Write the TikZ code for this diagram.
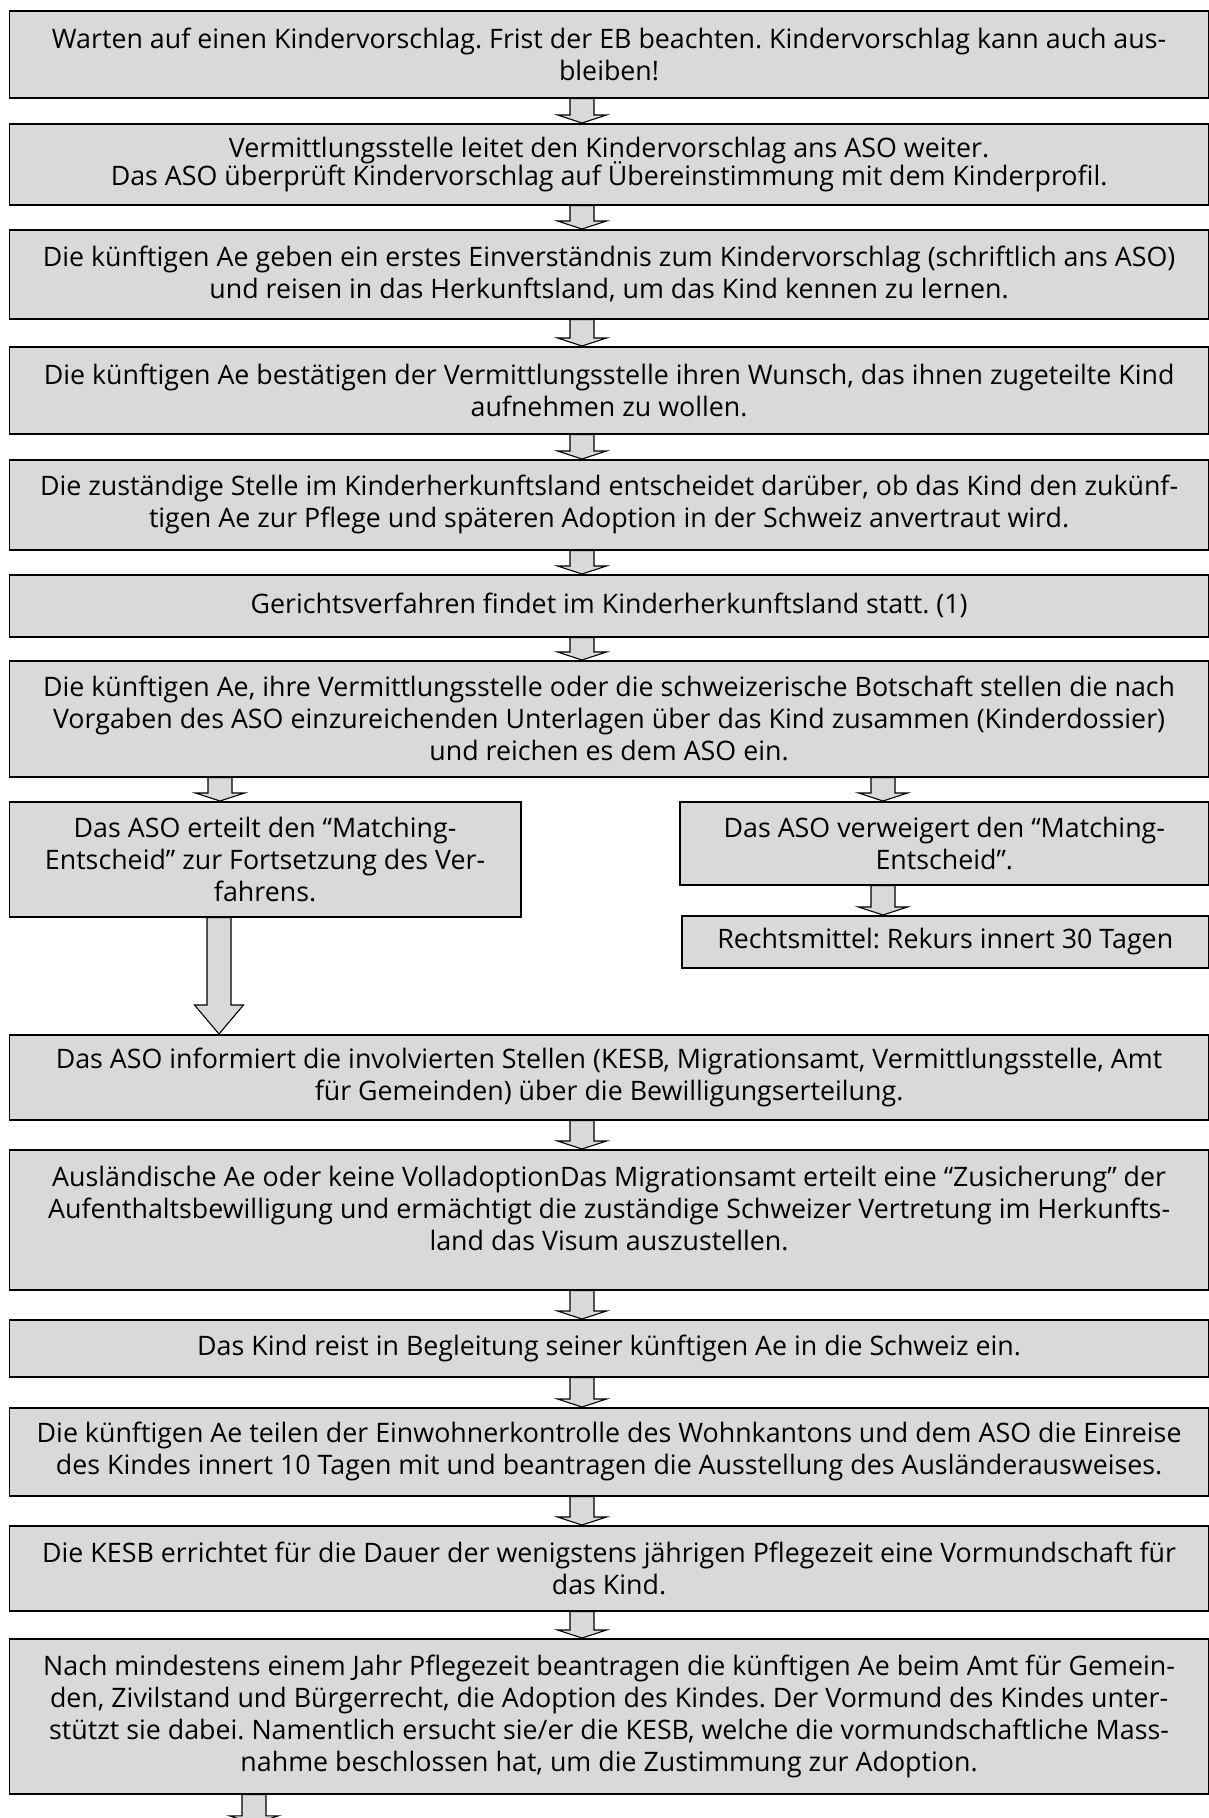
\documentclass[tikz,border=0pt]{standalone}
\usepackage{fontspec}
\setmainfont{Open Sans}
\usetikzlibrary{calc}
\definecolor{boxgray}{HTML}{D9D9D9}
\newcommand{\blockarr}[5]{% from, to, x centre (px), head length (px), style
  \draw[#5] let \p1=(#1.south), \p2=(#2.north) in
    ({(#3-12)*1pt},\y1) -- ({(#3-12)*1pt},{\y2+#4*1pt}) -- ({(#3-24.5)*1pt},{\y2+#4*1pt})
    -- ({#3*1pt},\y2) -- ({(#3+24.5)*1pt},{\y2+#4*1pt}) -- ({(#3+12)*1pt},{\y2+#4*1pt})
    -- ({(#3+12)*1pt},\y1) -- cycle;}
\tikzset{
  box/.style={draw=black, line width=1.6pt, fill=boxgray, align=center, inner sep=0pt,
    anchor=north west, font=\fontsize{26.8}{32}\selectfont\frenchspacing},
  blk/.style={draw=black, line width=1.1pt, fill=boxgray, line join=miter},
}
\begin{document}
\begin{tikzpicture}[x=1pt, y=-1pt]
\useasboundingbox (0,0) rectangle (1209,1818);
\node[box, minimum width=1199.5pt, minimum height=87pt] (b1) at (8.5,10)
  {Warten auf einen Kindervorschlag. Frist der EB beachten. Kindervorschlag kann auch aus-\\bleiben!};
\node[box, minimum width=1199.5pt, minimum height=81pt] (b2) at (8.5,123)
  {Vermittlungsstelle leitet den Kindervorschlag ans ASO weiter.\\[-4pt]Das ASO überprüft Kindervorschlag auf Übereinstimmung mit dem Kinderprofil.};
\node[box, minimum width=1199.5pt, minimum height=89pt] (b3) at (8.5,229)
  {Die künftigen Ae geben ein erstes Einverständnis zum Kindervorschlag (schriftlich ans ASO)\\und reisen in das Herkunftsland, um das Kind kennen zu lernen.};
\node[box, minimum width=1199.5pt, minimum height=87pt] (b4) at (8.5,346)
  {Die künftigen Ae bestätigen der Vermittlungsstelle ihren Wunsch, das ihnen zugeteilte Kind\\aufnehmen zu wollen.};
\node[box, minimum width=1199.5pt, minimum height=90pt] (b5) at (8.5,459)
  {Die zuständige Stelle im Kinderherkunftsland entscheidet darüber, ob das Kind den zukünf-\\tigen Ae zur Pflege und späteren Adoption in der Schweiz anvertraut wird.};
\node[box, minimum width=1199.5pt, minimum height=62pt] (b6) at (8.5,574)
  {Gerichtsverfahren findet im Kinderherkunftsland statt. (1)};
\node[box, minimum width=1199.5pt, minimum height=116pt] (b7) at (8.5,660)
  {Die künftigen Ae, ihre Vermittlungsstelle oder die schweizerische Botschaft stellen die nach\\Vorgaben des ASO einzureichenden Unterlagen über das Kind zusammen (Kinderdossier)\\und reichen es dem ASO ein.};
\node[box, minimum width=511.5pt, minimum height=115pt] (b8a) at (8.5,801)
  {Das ASO erteilt den “Matching-\\Entscheid” zur Fortsetzung des Ver-\\fahrens.};
\node[box, minimum width=529pt, minimum height=83pt] (b8b) at (679,801)
  {Das ASO verweigert den “Matching-\\Entscheid”.};
\node[box, minimum width=527pt, minimum height=52pt] (b8c) at (681,915)
  {Rechtsmittel: Rekurs innert 30 Tagen};
\node[box, minimum width=1199.5pt, minimum height=85pt] (b9) at (8.5,1034)
  {Das ASO informiert die involvierten Stellen (KESB, Migrationsamt, Vermittlungsstelle, Amt\\für Gemeinden) über die Bewilligungserteilung.};
\node[box, minimum width=1199.5pt, minimum height=140pt] (b10) at (8.5,1149)
  {Ausländische Ae oder keine VolladoptionDas Migrationsamt erteilt eine “Zusicherung” der\\Aufenthaltsbewilligung und ermächtigt die zuständige Schweizer Vertretung im Herkunfts-\\land das Visum auszustellen.\\[-10pt]\mbox{}};
\node[box, minimum width=1199.5pt, minimum height=57pt] (b11) at (8.5,1319)
  {Das Kind reist in Begleitung seiner künftigen Ae in die Schweiz ein.};
\node[box, minimum width=1199.5pt, minimum height=88pt] (b12) at (8.5,1407)
  {Die künftigen Ae teilen der Einwohnerkontrolle des Wohnkantons und dem ASO die Einreise\\des Kindes innert 10 Tagen mit und beantragen die Ausstellung des Ausländerausweises.};
\node[box, minimum width=1199.5pt, minimum height=85pt] (b13) at (8.5,1525)
  {Die KESB errichtet für die Dauer der wenigstens jährigen Pflegezeit eine Vormundschaft für\\das Kind.};
\node[box, minimum width=1199.5pt, minimum height=155pt] (b14) at (8.5,1638)
  {Nach mindestens einem Jahr Pflegezeit beantragen die künftigen Ae beim Amt für Gemein-\\den, Zivilstand und Bürgerrecht, die Adoption des Kindes. Der Vormund des Kindes unter-\\stützt sie dabei. Namentlich ersucht sie/er die KESB, welche die vormundschaftliche Mass-\\nahme beschlossen hat, um die Zustimmung zur Adoption.};
\coordinate (end) at (254,1824);
\node[inner sep=0pt, minimum size=0pt] (endn) at (end) {};
\blockarr{b1}{b2}{582}{8}{blk}
\blockarr{b2}{b3}{582}{8}{blk}
\blockarr{b3}{b4}{582}{8}{blk}
\blockarr{b4}{b5}{582}{8}{blk}
\blockarr{b5}{b6}{582}{8}{blk}
\blockarr{b6}{b7}{582}{8}{blk}
\blockarr{b7}{b8a}{220}{8}{blk}
\blockarr{b7}{b8b}{883}{8}{blk}
\blockarr{b8b}{b8c}{883}{8}{blk}
\blockarr{b8a}{b9}{219}{29}{blk}
\blockarr{b9}{b10}{582}{8}{blk}
\blockarr{b10}{b11}{582}{8}{blk}
\blockarr{b11}{b12}{582}{8}{blk}
\blockarr{b12}{b13}{582}{8}{blk}
\blockarr{b13}{b14}{582}{8}{blk}
\blockarr{b14}{endn}{254}{8}{blk}
\end{tikzpicture}
\end{document}
